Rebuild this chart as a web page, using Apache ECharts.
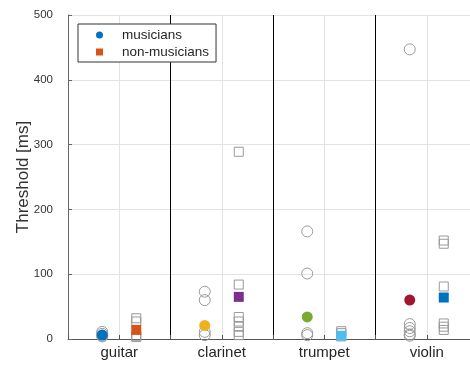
<!DOCTYPE html>
<html>
<head>
<meta charset="utf-8">
<script src="https://cdn.jsdelivr.net/npm/echarts@6/dist/echarts.min.js"></script>
<style>
  html, body { margin: 0; padding: 0; background: #fff; }
  #chart { width: 470px; height: 368px; }
</style>
</head>
<body>
<div id="chart"></div>
<script>
const categories = ["guitar", "clarinet", "trumpet", "violin"];
// individual thresholds (grey open markers)
const musiciansRaw = [
  [11, 8, 5, 4],
  [73, 60, 11, 6],
  [166, 101, 9, 6],
  [447, 23, 17, 12, 7, 5]
];
const nonMusiciansRaw = [
  [32, 27, 5, 3],
  [289, 84, 34, 27, 19, 11, 6],
  [12, 9, 4],
  [152, 147, 81, 24, 19, 14]
];
// group averages (filled markers)
const musiciansMean = [6, 21, 34, 60];
const nonMusiciansMean = [14, 65, 5, 64];
const yTicks = [0, 100, 200, 300, 400, 500];

const musColors = ["#0072BD", "#EDB120", "#77AC30", "#A2142F"];
const nonColors = ["#D95319", "#7E2F8E", "#4DBEEE", "#0072BD"];
const FONT = "Liberation Sans";
const OFFSET = 0.166; // horizontal shift from category centre

function rawPoints(groups, shift) {
  const pts = [];
  groups.forEach((vals, i) => vals.forEach(v => pts.push([i + 0.5 + shift, v])));
  return pts;
}
function meanPoints(vals, shift, colors) {
  return vals.map((v, i) => ({ value: [i + 0.5 + shift, v], itemStyle: { color: colors[i] } }));
}

const chart = echarts.init(document.getElementById("chart"));
chart.setOption({
  animation: false,
  textStyle: { fontFamily: FONT },
  grid: { left: 68, top: 15, height: 324, width: 410, outerBoundsMode: "none", containLabel: false },
  legend: {
    left: 78, top: 24,
    orient: "vertical",
    itemWidth: 7, itemHeight: 7, itemGap: 3,
    padding: [4, 7, 3, 18],
    backgroundColor: "#fff",
    borderColor: "#333", borderWidth: 1,
    textStyle: { fontSize: 13.5, color: "#262626", padding: [0, 0, 0, 14] },
    data: [
      { name: "musicians", icon: "circle" },
      { name: "non-musicians", icon: "rect" }
    ]
  },
  xAxis: {
    type: "value",
    min: 0, max: 4, interval: 0.5,
    axisLine: { lineStyle: { color: "#555" } },
    axisTick: { inside: true, length: 4, lineStyle: { color: "#555" } },
    axisLabel: {
      fontSize: 15, color: "#262626", margin: 6,
      formatter: v => (v % 1 === 0.5 ? categories[Math.floor(v)] : "")
    },
    splitLine: { show: true, lineStyle: { color: ["#000", "#e3e3e3"], width: 1 } }
  },
  yAxis: {
    type: "value",
    min: yTicks[0], max: yTicks[yTicks.length - 1], interval: 100,
    name: "Threshold [ms]",
    nameLocation: "middle", nameGap: 36, nameRotate: 90, nameMoveOverlap: false,
    nameTextStyle: { fontSize: 17, color: "#333" },
    axisLine: { show: true, lineStyle: { color: "#666" } },
    axisTick: { show: true, inside: true, length: 4, lineStyle: { color: "#666" } },
    axisLabel: { fontSize: 11.5, color: "#333", margin: 15 },
    splitLine: { show: true, lineStyle: { color: "#e3e3e3" } }
  },
  series: [
    {
      name: "musicians raw", type: "scatter", symbol: "circle", symbolSize: 11,
      itemStyle: { color: "rgba(0,0,0,0)", borderColor: "#999", borderWidth: 1, opacity: 1 },
      data: rawPoints(musiciansRaw, -OFFSET), z: 2
    },
    {
      name: "non-musicians raw", type: "scatter", symbol: "rect", symbolSize: 9,
      itemStyle: { color: "rgba(0,0,0,0)", borderColor: "#999", borderWidth: 1, opacity: 1 },
      data: rawPoints(nonMusiciansRaw, OFFSET), z: 2
    },
    {
      name: "musicians", type: "scatter", symbol: "circle", symbolSize: 11,
      itemStyle: { color: "#0072BD", opacity: 1 },
      data: meanPoints(musiciansMean, -OFFSET, musColors), z: 3
    },
    {
      name: "non-musicians", type: "scatter", symbol: "rect", symbolSize: 10,
      itemStyle: { color: "#D95319", opacity: 1 },
      data: meanPoints(nonMusiciansMean, OFFSET, nonColors), z: 3
    }
  ]
});
</script>
</body>
</html>
